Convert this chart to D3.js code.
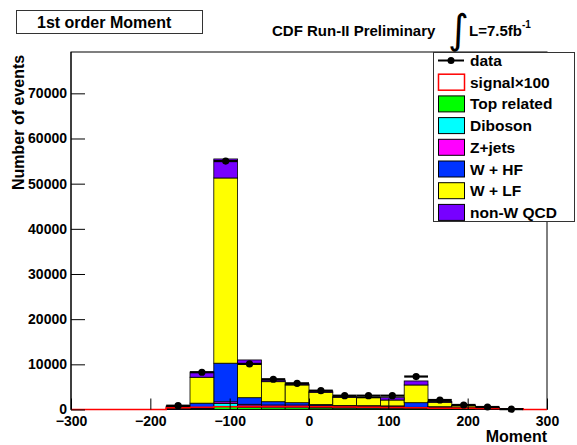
<!DOCTYPE html>
<html>
<head>
<meta charset="utf-8">
<script src="https://cdn.jsdelivr.net/npm/d3@7"></script>
<style>
  html, body { margin: 0; padding: 0; background: #fff; }
  svg { display: block; }
  text { font-family: "Liberation Sans", Arial, Helvetica, sans-serif; font-weight: bold; fill: #000; }
</style>
</head>
<body>
<svg id="chart" width="577" height="445"></svg>
<script>
// Bin lower edges (width 30) of the "Moment" histogram
const binLow = [-300, -270, -240, -210, -180, -150, -120, -90, -60, -30, 0, 30, 60, 90, 120, 150, 180, 210, 240, 270];
const binWidth = 30;

// Stacked backgrounds, bottom to top
const topRelated = [0, 0, 0, 0, 20, 100, 700, 500, 400, 400, 350, 300, 280, 250, 250, 150, 100, 50, 8, 0];
const diboson    = [0, 0, 0, 0, 30, 150, 650, 300, 250, 250, 200, 200, 180, 160, 100, 100, 60, 30, 5, 0];
const zJets      = [0, 0, 0, 0, 30, 150, 350, 353, 350, 350, 300, 250, 240, 240, 140, 150, 90, 40, 7, 0];
const wHF        = [0, 0, 0, 0, 150, 1000, 8550, 1463, 730, 510, 250, 150, 150, 150, 1020, 220, 150, 80, 10, 0];
const wLF        = [0, 0, 0, 0, 400, 5740, 41010, 7474, 4430, 3920, 2710, 1800, 1750, 1300, 3920, 980, 400, 250, 50, 0];
const nonWQCD    = [0, 0, 0, 0, 150, 1160, 4210, 880, 340, 220, 290, 150, 150, 520, 890, 150, 100, 50, 0, 0];

// Observed events and the signal template scaled by 100
const dataCounts = [0, 0, 0, 0, 840, 8250, 55000, 10090, 6700, 5800, 4170, 3060, 3060, 3060, 7300, 2100, 1000, 550, 80, 0];
const signalX100 = [0, 0, 0, 0, 400, 500, 600, 600, 600, 600, 600, 550, 500, 450, 400, 300, 250, 200, 150, 0];

// Axis ticks
const xTicks = [-300, -200, -100, 0, 100, 200, 300];
const yTicks = [0, 10000, 20000, 30000, 40000, 50000, 60000, 70000];

const stackSeries = [
  { name: "Top related", values: topRelated, color: "#00ff00" },
  { name: "Diboson",     values: diboson,    color: "#00ffff" },
  { name: "Z+jets",      values: zJets,      color: "#ff00ff" },
  { name: "W + HF",      values: wHF,        color: "#0033ff" },
  { name: "W + LF",      values: wLF,        color: "#ffff00" },
  { name: "non-W QCD",   values: nonWQCD,    color: "#7700ff" }
];

const svg = d3.select("#chart");
const frame = { left: 71, right: 547, top: 52, bottom: 409.5 };

const x = d3.scaleLinear().domain([-300, 300]).range([frame.left, frame.right]);
const y = d3.scaleLinear().domain([0, 79150]).range([frame.bottom, frame.top]);

// Plot frame
svg.append("rect")
  .attr("x", frame.left).attr("y", frame.top)
  .attr("width", frame.right - frame.left).attr("height", frame.bottom - frame.top)
  .attr("fill", "#fff").attr("stroke", "#000").attr("stroke-width", 1);

// Stack the backgrounds
const rows = binLow.map((lo, i) => {
  const r = { lo };
  stackSeries.forEach(s => { r[s.name] = s.values[i]; });
  return r;
});
const stacked = d3.stack().keys(stackSeries.map(s => s.name))(rows);

const gStack = svg.append("g");
stacked.forEach((layer, li) => {
  gStack.append("g")
    .selectAll("rect")
    .data(layer.filter(d => d[1] - d[0] > 0))
    .join("rect")
    .attr("x", d => x(d.data.lo))
    .attr("width", d => x(d.data.lo + binWidth) - x(d.data.lo))
    .attr("y", d => y(d[1]))
    .attr("height", d => y(d[0]) - y(d[1]))
    .attr("fill", stackSeries[li].color)
    .attr("stroke", "#000")
    .attr("stroke-width", 0.8);
});

// Signal x100 outline histogram
const sigPath = d3.path();
binLow.forEach((lo, i) => {
  if (i === 0) sigPath.moveTo(x(lo), y(signalX100[i]));
  else sigPath.lineTo(x(lo), y(signalX100[i]));
  sigPath.lineTo(x(lo + binWidth), y(signalX100[i]));
});
svg.append("path").attr("d", sigPath.toString())
  .attr("fill", "none").attr("stroke", "#ff0000").attr("stroke-width", 1.5);

// Axes with inward ticks
const gx = svg.append("g").attr("transform", `translate(0,${frame.bottom})`);
gx.call(d3.axisBottom(x).tickValues(d3.range(-300, 301, 20)).tickSize(-5.5).tickFormat(""));
gx.call(d3.axisBottom(x).tickValues(xTicks).tickSize(-11).tickPadding(5).tickFormat(d3.format("d")));
gx.selectAll(".domain").remove();
gx.selectAll("line").attr("stroke", "#000");
gx.selectAll("text").attr("font-size", 14).attr("font-family", null).attr("dy", "0.72em").attr("y", 6);

const gy = svg.append("g").attr("transform", `translate(${frame.left},0)`);
gy.call(d3.axisLeft(y).tickValues(d3.range(0, 79000, 2000)).tickSize(-7).tickFormat(""));
gy.call(d3.axisLeft(y).tickValues(yTicks).tickSize(-14).tickPadding(4).tickFormat(d3.format("d")));
gy.selectAll(".domain").remove();
gy.selectAll("line").attr("stroke", "#000");
gy.selectAll("text").attr("font-size", 14).attr("font-family", null);

// Left frame edge drawn again above the stack
svg.append("line").attr("x1", frame.left).attr("x2", frame.left)
  .attr("y1", frame.top).attr("y2", frame.bottom).attr("stroke", "#000");

// Data points with bin-width bars
const dataPts = binLow.map((lo, i) => ({ lo, v: dataCounts[i] })).filter(d => d.v > 0);
const gData = svg.append("g");
gData.selectAll("line")
  .data(dataPts)
  .join("line")
  .attr("x1", d => x(d.lo)).attr("x2", d => x(d.lo + binWidth))
  .attr("y1", d => y(d.v)).attr("y2", d => y(d.v))
  .attr("stroke", "#000").attr("stroke-width", 2.2);
gData.selectAll("circle")
  .data(dataPts)
  .join("circle")
  .attr("cx", d => x(d.lo + binWidth / 2)).attr("cy", d => y(d.v))
  .attr("r", 3.6).attr("fill", "#000");

// Axis titles
svg.append("text").attr("x", 547).attr("y", 442).attr("text-anchor", "end")
  .attr("font-size", 16).text("Moment");
svg.append("text").attr("transform", "translate(24,190) rotate(-90)")
  .attr("font-size", 16).text("Number of events");

// Title box
svg.append("rect").attr("x", 16.5).attr("y", 10.5).attr("width", 186).attr("height", 23)
  .attr("fill", "#fff").attr("stroke", "#333");
svg.append("text").attr("x", 37).attr("y", 27.5).attr("font-size", 16).text("1st order Moment");

// Experiment label
svg.append("text").attr("x", 272).attr("y", 36).attr("font-size", 15).text("CDF Run-II Preliminary");
svg.append("text").attr("x", 448).attr("y", 43).attr("font-size", 40)
  .style("font-weight", "normal").style("font-family", "DejaVu Sans").text("\u222B");
svg.append("text").attr("x", 469).attr("y", 36).attr("font-size", 15)
  .text("L=7.5fb")
  .append("tspan").attr("font-size", 10).attr("dy", -8).text("-1");

// Legend
const legend = svg.append("g");
legend.append("rect").attr("x", 433.5).attr("y", 52.5).attr("width", 141).attr("height", 169)
  .attr("fill", "#fff").attr("stroke", "#333");
const legendItems = [
  { label: "data", kind: "data" },
  { label: "signal\u00D7100", kind: "line", color: "#ff0000" },
  ...stackSeries.map(s => ({ label: s.name, kind: "fill", color: s.color }))
];
legendItems.forEach((it, i) => {
  const cy = 60.5 + i * 21.7;
  const g = legend.append("g");
  if (it.kind === "data") {
    g.append("line").attr("x1", 438).attr("x2", 464).attr("y1", cy).attr("y2", cy)
      .attr("stroke", "#000").attr("stroke-width", 2);
    g.append("circle").attr("cx", 451).attr("cy", cy).attr("r", 3.5).attr("fill", "#000");
  } else if (it.kind === "line") {
    g.append("rect").attr("x", 438.5).attr("y", cy - 8).attr("width", 26).attr("height", 16)
      .attr("fill", "#fff").attr("stroke", it.color).attr("stroke-width", 1.5);
  } else {
    g.append("rect").attr("x", 438.5).attr("y", cy - 8).attr("width", 26).attr("height", 16)
      .attr("fill", it.color).attr("stroke", "#000").attr("stroke-width", 1);
  }
  g.append("text").attr("x", 470).attr("y", cy + 5.5).attr("font-size", 15.5).text(it.label);
});
</script>
</body>
</html>
